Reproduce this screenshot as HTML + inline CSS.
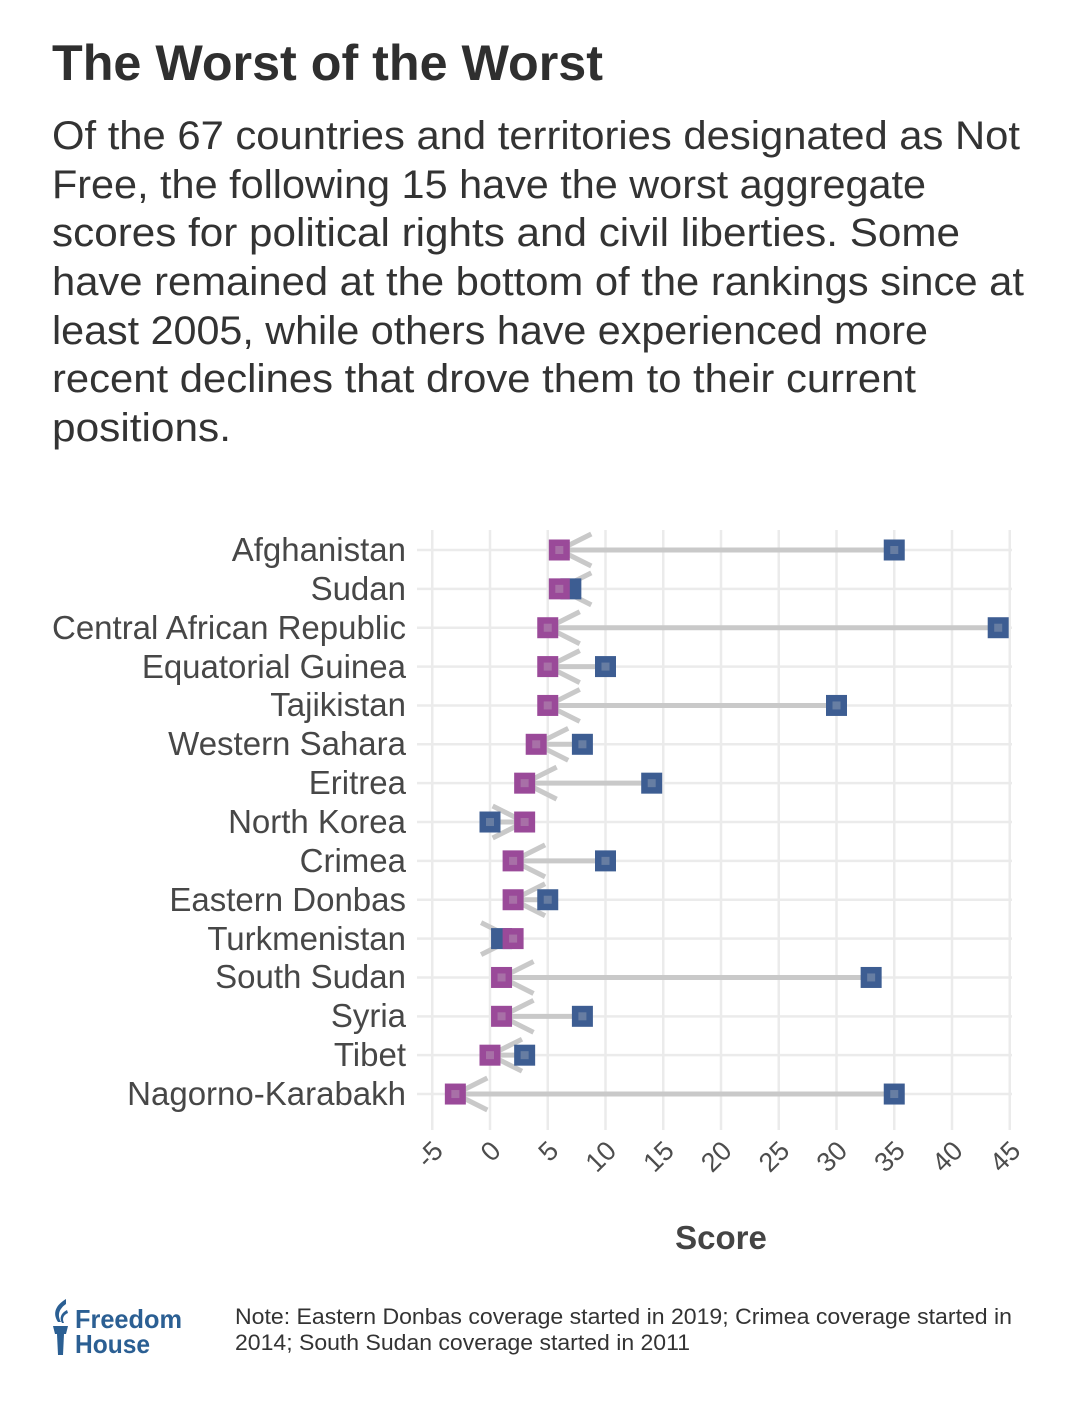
<!DOCTYPE html>
<html><head><meta charset="utf-8"><style>
html,body{margin:0;padding:0;background:#fff;}
svg{display:block;}
text{font-family:"Liberation Sans",Arial,sans-serif;}
</style></head><body>
<svg width="1080" height="1413" viewBox="0 0 1080 1413" xmlns="http://www.w3.org/2000/svg">
<rect width="1080" height="1413" fill="#fff"/>
<text x="52" y="80" font-size="50" font-weight="bold" fill="#2f2f2f" textLength="551" lengthAdjust="spacingAndGlyphs">The Worst of the Worst</text>
<g font-size="40" fill="#333">
<text x="52" y="149" textLength="968" lengthAdjust="spacingAndGlyphs">Of the 67 countries and territories designated as Not</text>
<text x="52" y="198" textLength="874" lengthAdjust="spacingAndGlyphs">Free, the following 15 have the worst aggregate</text>
<text x="52" y="246" textLength="908" lengthAdjust="spacingAndGlyphs">scores for political rights and civil liberties. Some</text>
<text x="52" y="295" textLength="972" lengthAdjust="spacingAndGlyphs">have remained at the bottom of the rankings since at</text>
<text x="52" y="344" textLength="876" lengthAdjust="spacingAndGlyphs">least 2005, while others have experienced more</text>
<text x="52" y="392" textLength="864" lengthAdjust="spacingAndGlyphs">recent declines that drove them to their current</text>
<text x="52" y="441" textLength="179" lengthAdjust="spacingAndGlyphs">positions.</text>
</g>
<!-- grid -->
<g stroke="#ebebeb" stroke-width="2.5">
<line x1="432.25" y1="530" x2="432.25" y2="1130"/>
<line x1="490" y1="530" x2="490" y2="1130"/>
<line x1="547.75" y1="530" x2="547.75" y2="1130"/>
<line x1="605.5" y1="530" x2="605.5" y2="1130"/>
<line x1="663.25" y1="530" x2="663.25" y2="1130"/>
<line x1="721" y1="530" x2="721" y2="1130"/>
<line x1="778.75" y1="530" x2="778.75" y2="1130"/>
<line x1="836.5" y1="530" x2="836.5" y2="1130"/>
<line x1="894.25" y1="530" x2="894.25" y2="1130"/>
<line x1="952" y1="530" x2="952" y2="1130"/>
<line x1="1009.75" y1="530" x2="1009.75" y2="1130"/>
<line x1="417" y1="550" x2="1012" y2="550"/>
<line x1="417" y1="588.86" x2="1012" y2="588.86"/>
<line x1="417" y1="627.72" x2="1012" y2="627.72"/>
<line x1="417" y1="666.58" x2="1012" y2="666.58"/>
<line x1="417" y1="705.44" x2="1012" y2="705.44"/>
<line x1="417" y1="744.3" x2="1012" y2="744.3"/>
<line x1="417" y1="783.16" x2="1012" y2="783.16"/>
<line x1="417" y1="822.02" x2="1012" y2="822.02"/>
<line x1="417" y1="860.88" x2="1012" y2="860.88"/>
<line x1="417" y1="899.74" x2="1012" y2="899.74"/>
<line x1="417" y1="938.6" x2="1012" y2="938.6"/>
<line x1="417" y1="977.46" x2="1012" y2="977.46"/>
<line x1="417" y1="1016.32" x2="1012" y2="1016.32"/>
<line x1="417" y1="1055.18" x2="1012" y2="1055.18"/>
<line x1="417" y1="1094.04" x2="1012" y2="1094.04"/>
</g>
<!-- y labels -->
<g font-size="33" fill="#474747" text-anchor="end">
<text x="406" y="561">Afghanistan</text>
<text x="406" y="600">Sudan</text>
<text x="406" y="639">Central African Republic</text>
<text x="406" y="678">Equatorial Guinea</text>
<text x="406" y="716">Tajikistan</text>
<text x="406" y="755">Western Sahara</text>
<text x="406" y="794">Eritrea</text>
<text x="406" y="833">North Korea</text>
<text x="406" y="872">Crimea</text>
<text x="406" y="911">Eastern Donbas</text>
<text x="406" y="950">Turkmenistan</text>
<text x="406" y="988">South Sudan</text>
<text x="406" y="1027">Syria</text>
<text x="406" y="1066">Tibet</text>
<text x="406" y="1105">Nagorno-Karabakh</text>
</g>
<!-- arrows -->
<g stroke="#c9c9c9" stroke-width="5" fill="none">
<path d="M894.25 550 L559.3 550 M591.3 534 L559.3 550 L591.3 566"/>
<path d="M570.85 588.86 L559.3 588.86 M591.3 572.86 L559.3 588.86 L591.3 604.86"/>
<path d="M998.2 627.72 L547.75 627.72 M579.75 611.72 L547.75 627.72 L579.75 643.72"/>
<path d="M605.5 666.58 L547.75 666.58 M579.75 650.58 L547.75 666.58 L579.75 682.58"/>
<path d="M836.5 705.44 L547.75 705.44 M579.75 689.44 L547.75 705.44 L579.75 721.44"/>
<path d="M582.4 744.3 L536.2 744.3 M568.2 728.3 L536.2 744.3 L568.2 760.3"/>
<path d="M651.7 783.16 L524.65 783.16 M556.65 767.16 L524.65 783.16 L556.65 799.16"/>
<path d="M490 822.02 L524.65 822.02 M492.65 806.02 L524.65 822.02 L492.65 838.02"/>
<path d="M605.5 860.88 L513.1 860.88 M545.1 844.88 L513.1 860.88 L545.1 876.88"/>
<path d="M547.75 899.74 L513.1 899.74 M545.1 883.74 L513.1 899.74 L545.1 915.74"/>
<path d="M501.55 938.6 L513.1 938.6 M481.1 922.6 L513.1 938.6 L481.1 954.6"/>
<path d="M871.15 977.46 L501.55 977.46 M533.55 961.46 L501.55 977.46 L533.55 993.46"/>
<path d="M582.4 1016.32 L501.55 1016.32 M533.55 1000.32 L501.55 1016.32 L533.55 1032.32"/>
<path d="M524.65 1055.18 L490 1055.18 M522 1039.18 L490 1055.18 L522 1071.18"/>
<path d="M894.25 1094.04 L455.35 1094.04 M487.35 1078.04 L455.35 1094.04 L487.35 1110.04"/>
</g>
<!-- blue squares (previous) -->
<g fill="#3d5d92">
<rect x="883.75" y="539.5" width="21" height="21"/>
<rect x="560.35" y="578.36" width="21" height="21"/>
<rect x="987.7" y="617.22" width="21" height="21"/>
<rect x="595" y="656.08" width="21" height="21"/>
<rect x="826" y="694.94" width="21" height="21"/>
<rect x="571.9" y="733.8" width="21" height="21"/>
<rect x="641.2" y="772.66" width="21" height="21"/>
<rect x="479.5" y="811.52" width="21" height="21"/>
<rect x="595" y="850.38" width="21" height="21"/>
<rect x="537.25" y="889.24" width="21" height="21"/>
<rect x="491.05" y="928.1" width="21" height="21"/>
<rect x="860.65" y="966.96" width="21" height="21"/>
<rect x="571.9" y="1005.82" width="21" height="21"/>
<rect x="514.15" y="1044.68" width="21" height="21"/>
<rect x="883.75" y="1083.54" width="21" height="21"/>
</g>
<!-- purple squares (current) -->
<g fill="#9a4a99">
<rect x="548.8" y="539.5" width="21" height="21"/>
<rect x="548.8" y="578.36" width="21" height="21"/>
<rect x="537.25" y="617.22" width="21" height="21"/>
<rect x="537.25" y="656.08" width="21" height="21"/>
<rect x="537.25" y="694.94" width="21" height="21"/>
<rect x="525.7" y="733.8" width="21" height="21"/>
<rect x="514.15" y="772.66" width="21" height="21"/>
<rect x="514.15" y="811.52" width="21" height="21"/>
<rect x="502.6" y="850.38" width="21" height="21"/>
<rect x="502.6" y="889.24" width="21" height="21"/>
<rect x="502.6" y="928.1" width="21" height="21"/>
<rect x="491.05" y="966.96" width="21" height="21"/>
<rect x="491.05" y="1005.82" width="21" height="21"/>
<rect x="479.5" y="1044.68" width="21" height="21"/>
<rect x="444.85" y="1083.54" width="21" height="21"/>
</g>
<!-- light center patches -->
<g fill="#c9c9c9" opacity="0.3">
<rect x="555.3" y="546" width="8" height="8"/><rect x="890.25" y="546" width="8" height="8"/>
<rect x="555.3" y="584.86" width="8" height="8"/>
<rect x="543.75" y="623.72" width="8" height="8"/><rect x="994.2" y="623.72" width="8" height="8"/>
<rect x="543.75" y="662.58" width="8" height="8"/><rect x="601.5" y="662.58" width="8" height="8"/>
<rect x="543.75" y="701.44" width="8" height="8"/><rect x="832.5" y="701.44" width="8" height="8"/>
<rect x="532.2" y="740.3" width="8" height="8"/><rect x="578.4" y="740.3" width="8" height="8"/>
<rect x="520.65" y="779.16" width="8" height="8"/><rect x="647.7" y="779.16" width="8" height="8"/>
<rect x="520.65" y="818.02" width="8" height="8"/><rect x="486" y="818.02" width="8" height="8"/>
<rect x="509.1" y="856.88" width="8" height="8"/><rect x="601.5" y="856.88" width="8" height="8"/>
<rect x="509.1" y="895.74" width="8" height="8"/><rect x="543.75" y="895.74" width="8" height="8"/>
<rect x="509.1" y="934.6" width="8" height="8"/>
<rect x="497.55" y="973.46" width="8" height="8"/><rect x="867.15" y="973.46" width="8" height="8"/>
<rect x="497.55" y="1012.32" width="8" height="8"/><rect x="578.4" y="1012.32" width="8" height="8"/>
<rect x="486" y="1051.18" width="8" height="8"/><rect x="520.65" y="1051.18" width="8" height="8"/>
<rect x="451.35" y="1090.04" width="8" height="8"/><rect x="890.25" y="1090.04" width="8" height="8"/>
</g>
<!-- x tick labels -->
<g font-size="27" fill="#4d4d4d" text-anchor="end" dominant-baseline="central">
<text transform="translate(438.25,1146) rotate(-45)">-5</text>
<text transform="translate(496,1146) rotate(-45)">0</text>
<text transform="translate(553.75,1146) rotate(-45)">5</text>
<text transform="translate(611.5,1146) rotate(-45)">10</text>
<text transform="translate(669.25,1146) rotate(-45)">15</text>
<text transform="translate(727,1146) rotate(-45)">20</text>
<text transform="translate(784.75,1146) rotate(-45)">25</text>
<text transform="translate(842.5,1146) rotate(-45)">30</text>
<text transform="translate(900.25,1146) rotate(-45)">35</text>
<text transform="translate(958,1146) rotate(-45)">40</text>
<text transform="translate(1015.75,1146) rotate(-45)">45</text>
</g>
<text x="721" y="1249" font-size="33" font-weight="bold" fill="#444" text-anchor="middle">Score</text>
<!-- logo -->
<g fill="#2b5f93">
<path d="M66 1299 C56 1305 52 1313 58 1322 L61 1322 C57 1315 59 1309 66 1304 Z"/>
<path d="M67 1310 C61 1313 59 1318 62 1323 L64 1323 C62 1319 63 1315 68 1313 Z"/>
<path d="M53 1326 L68 1326 L66 1334 L55 1334 Z"/>
<path d="M57 1334 L64 1334 L63 1355 L58 1355 Z"/>
</g>
<text x="75" y="1328" font-size="26" font-weight="bold" fill="#2b5f93" textLength="107" lengthAdjust="spacingAndGlyphs">Freedom</text>
<text x="75" y="1353" font-size="26" font-weight="bold" fill="#2b5f93" textLength="75" lengthAdjust="spacingAndGlyphs">House</text>
<!-- note -->
<text x="235" y="1324" font-size="22" fill="#333" textLength="777" lengthAdjust="spacingAndGlyphs">Note: Eastern Donbas coverage started in 2019; Crimea coverage started in</text>
<text x="235" y="1350" font-size="22" fill="#333" textLength="455" lengthAdjust="spacingAndGlyphs">2014; South Sudan coverage started in 2011</text>
</svg>
</body></html>
